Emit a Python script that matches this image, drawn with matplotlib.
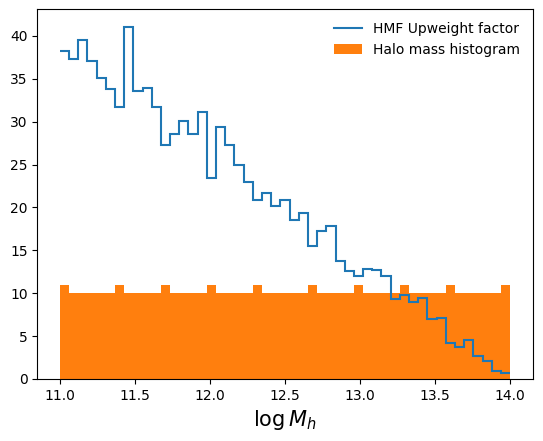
import numpy as np
import matplotlib
matplotlib.use("Agg")
import matplotlib.pyplot as plt

# bin edges of log halo mass
edges = np.linspace(11.0, 14.0, 50)

# HMF upweight factor per bin
upweight = [38.26, 37.29, 39.49, 37.09, 35.08, 33.76, 31.67, 41.05, 33.60, 33.95,
            31.74, 27.33, 28.57, 30.12, 28.57, 31.08, 23.45, 29.34, 27.29, 25.00,
            22.95, 20.90, 21.66, 20.15, 20.90, 18.49, 19.34, 15.50, 17.20, 17.83,
            13.76, 12.56, 12.05, 12.87, 12.67, 12.05, 9.34, 9.77, 8.95, 9.46,
            7.02, 7.13, 4.19, 3.68, 4.53, 2.67, 2.09, 0.97, 0.70]

# halo counts per bin
counts = [11, 10, 10, 10, 10, 10, 11, 10, 10, 10,
          10, 11, 10, 10, 10, 10, 11, 10, 10, 10,
          10, 11, 10, 10, 10, 10, 10, 11, 10, 10,
          10, 10, 11, 10, 10, 10, 10, 11, 10, 10,
          10, 10, 11, 10, 10, 10, 10, 10, 11]

fig = plt.figure(figsize=(5.43, 4.41), dpi=100)
ax = fig.add_axes([0.0687, 0.1406, 0.9123, 0.8383])

ax.stairs(upweight, edges, baseline=None, label="HMF Upweight factor",
          color="C0", linewidth=1.5, zorder=3)
ax.hist(edges[:-1], bins=edges, weights=counts, color="C1", label="Halo mass histogram")

ax.set_xlabel(r"$\log M_h$", fontsize=15)
ax.legend(frameon=False, loc="upper right")

fig.savefig("out.png", dpi=100)
